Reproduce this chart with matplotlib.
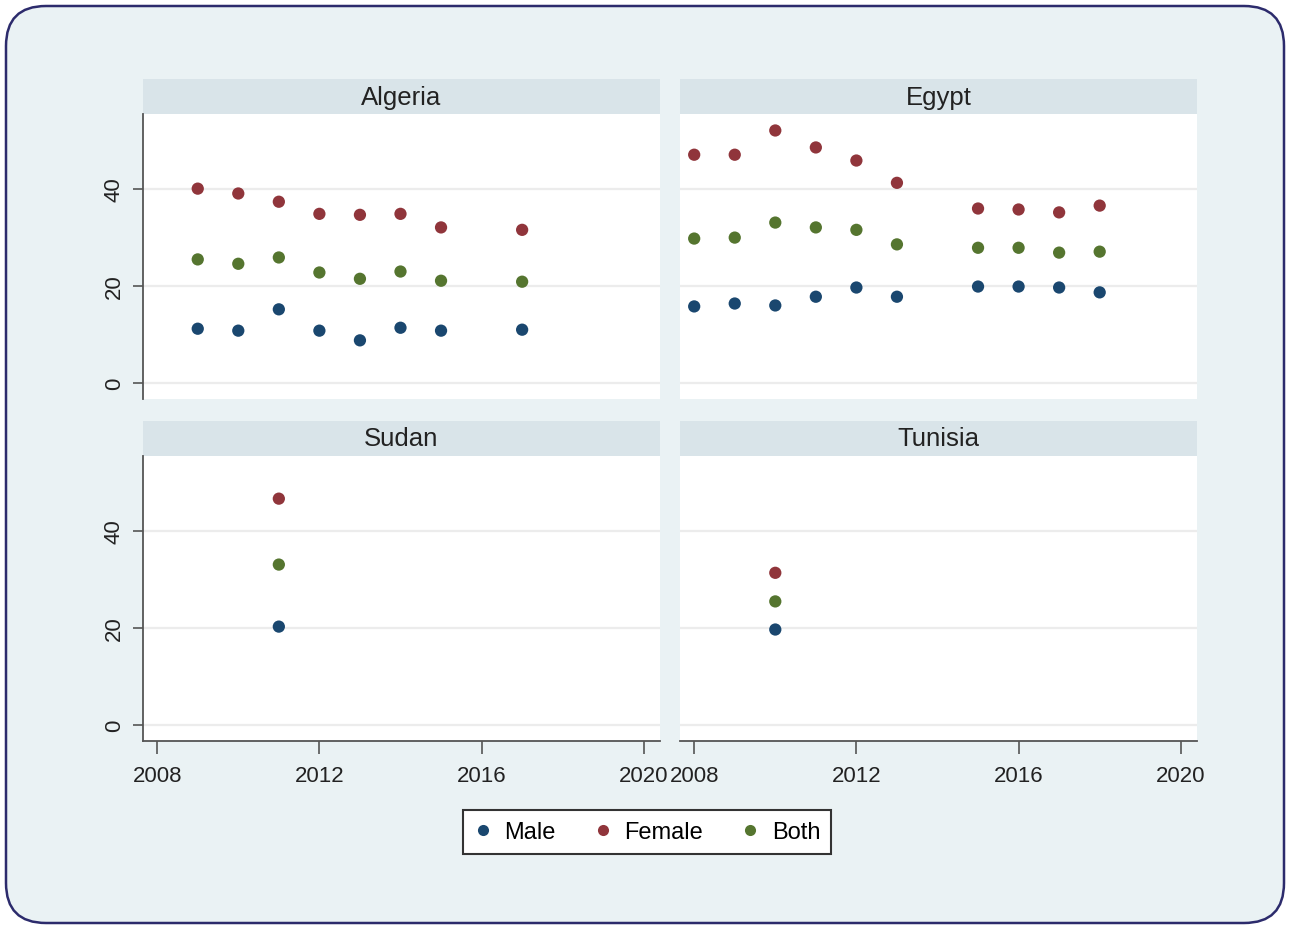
import matplotlib
matplotlib.use("Agg")
import matplotlib.pyplot as plt
from matplotlib.patches import FancyBboxPatch, Rectangle
from matplotlib.lines import Line2D

plt.rcParams['font.family'] = ['Liberation Sans', 'DejaVu Sans']

# ---- data -------------------------------------------------------------
algeria_years = [2009, 2010, 2011, 2012, 2013, 2014, 2015, 2017]
algeria_male = [11.1, 10.7, 15.1, 10.7, 8.7, 11.3, 10.7, 10.9]
algeria_female = [40.0, 39.0, 37.3, 34.8, 34.6, 34.8, 32.0, 31.5]
algeria_both = [25.4, 24.5, 25.8, 22.7, 21.4, 22.9, 21.0, 20.8]

egypt_years = [2008, 2009, 2010, 2011, 2012, 2013, 2015, 2016, 2017, 2018]
egypt_male = [15.7, 16.3, 15.9, 17.7, 19.6, 17.7, 19.8, 19.8, 19.6, 18.6]
egypt_female = [47.0, 47.0, 52.0, 48.5, 45.8, 41.2, 35.9, 35.7, 35.1, 36.5]
egypt_both = [29.7, 29.9, 33.0, 32.0, 31.5, 28.5, 27.8, 27.8, 26.8, 27.0]

sudan_years = [2011]
sudan_male = [20.2]
sudan_female = [46.6]
sudan_both = [33.0]

tunisia_years = [2010]
tunisia_male = [19.6]
tunisia_female = [31.3]
tunisia_both = [25.4]

countries = ["Algeria", "Egypt", "Sudan", "Tunisia"]
series_names = ["Male", "Female", "Both"]
series_colors = ["#1a476f", "#90353b", "#55752f"]
x_ticks = [2008, 2012, 2016, 2020]
y_ticks = [0, 20, 40]

panel_data = {
    "Algeria": (algeria_years, [algeria_male, algeria_female, algeria_both]),
    "Egypt": (egypt_years, [egypt_male, egypt_female, egypt_both]),
    "Sudan": (sudan_years, [sudan_male, sudan_female, sudan_both]),
    "Tunisia": (tunisia_years, [tunisia_male, tunisia_female, tunisia_both]),
}

# ---- figure -----------------------------------------------------------
W, H = 1290, 929
fig = plt.figure(figsize=(W / 100, H / 100), dpi=100)
fig.patch.set_facecolor("white")

bg = "#eaf2f4"
header_color = "#d9e4e9"
frame = FancyBboxPatch((0.06, 0.05), 12.78, 9.17,
                       boxstyle="round,pad=0,rounding_size=0.4",
                       transform=fig.dpi_scale_trans,
                       facecolor=bg, edgecolor="#2c2b6c", linewidth=1.8,
                       zorder=-5)
fig.patches.append(frame)

def px_rect(x0, y0, x1, y1):
    return [x0 / W, 1 - y1 / H, (x1 - x0) / W, (y1 - y0) / H]

positions = {
    "Algeria": px_rect(143, 115, 660, 400),
    "Egypt": px_rect(680, 115, 1197, 400),
    "Sudan": px_rect(143, 457, 660, 742),
    "Tunisia": px_rect(680, 457, 1197, 742),
}

header_h = 35 / 285  # header height relative to plot height
axis_color = "#555555"

for i, name in enumerate(countries):
    ax = fig.add_axes(positions[name])
    ax.set_facecolor("white")
    years, values = panel_data[name]
    for vals, color in zip(values, series_colors):
        ax.scatter(years, vals, s=78, color=color, edgecolors="none", zorder=3)

    ax.set_xlim(2007.65, 2020.4)
    ax.set_ylim(-3.4, 55.4)
    ax.set_yticks(y_ticks)
    ax.set_xticks(x_ticks)
    ax.grid(axis="y", color="#ececec", linewidth=1.6, zorder=0)
    ax.grid(axis="x", visible=False)

    left_col = i % 2 == 0
    bottom_row = i >= 2
    for side in ["top", "right"]:
        ax.spines[side].set_visible(False)
    ax.spines["left"].set_visible(left_col)
    ax.spines["bottom"].set_visible(bottom_row)
    ax.spines["left"].set_color(axis_color)
    ax.spines["bottom"].set_color(axis_color)
    ax.spines["left"].set_linewidth(1.3)
    ax.spines["bottom"].set_linewidth(1.3)

    ax.tick_params(axis="y", left=left_col, labelleft=left_col,
                   length=7, width=1.2, color=axis_color,
                   labelsize=16, labelcolor="#222222", pad=6)
    ax.tick_params(axis="x", bottom=bottom_row, labelbottom=bottom_row,
                   length=9, width=1.2, color=axis_color,
                   labelsize=16, labelcolor="#222222", pad=8)
    if left_col:
        for lab in ax.get_yticklabels():
            lab.set_rotation(90)
            lab.set_va("center")

    ax.add_patch(Rectangle((0, 1), 1, header_h, transform=ax.transAxes,
                           facecolor=header_color, edgecolor="none",
                           clip_on=False, zorder=1))
    ax.text(0.5, 1 + header_h / 2, name, transform=ax.transAxes,
            ha="center", va="center", fontsize=18.5, color="#222222")

handles = [Line2D([], [], marker="o", linestyle="none", markersize=8,
                  markerfacecolor=c, markeredgecolor="none") for c in series_colors]
leg = fig.legend(handles, series_names, loc="center",
                 bbox_to_anchor=(647 / W, 1 - 833 / H), ncol=3,
                 fontsize=17, frameon=True, fancybox=False,
                 handletextpad=0.5, columnspacing=1.6, handlelength=0.8,
                 borderpad=0.45, framealpha=1)
leg.get_frame().set_edgecolor("#333333")
leg.get_frame().set_linewidth(1.5)
leg.get_frame().set_facecolor("white")

fig.savefig("out.png", dpi=100, facecolor="white")
